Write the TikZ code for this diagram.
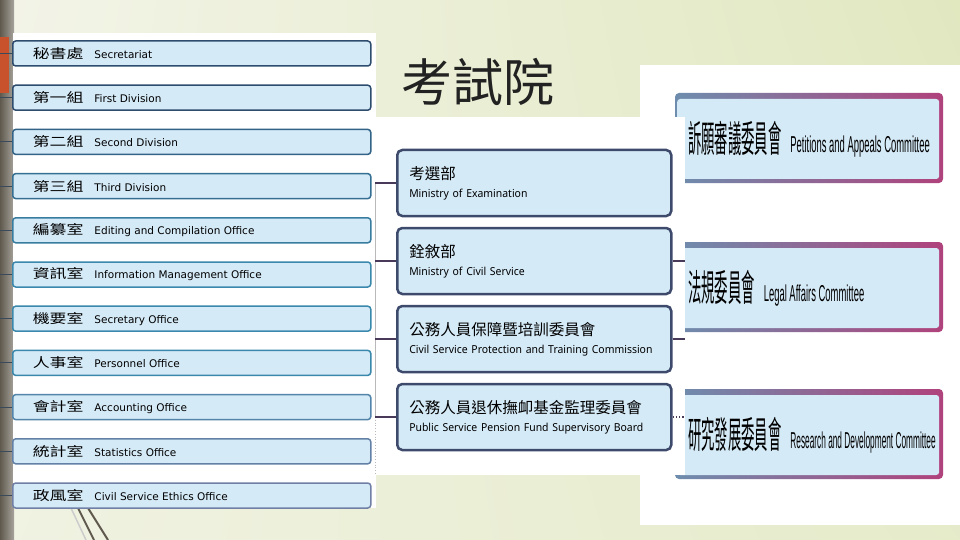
\documentclass[tikz,border=0pt]{standalone}
\usepackage{fontspec}
\usetikzlibrary{shadings}
\newfontfamily\cjk{Noto Sans CJK TC}
\newfontfamily\cjkwide[FakeStretch=1.3]{Noto Sans CJK TC}
\newfontfamily\cjknarrow[FakeStretch=0.36]{Noto Sans CJK TC}
\newfontfamily\verd{DejaVu Sans}
\newfontfamily\segoe[FakeStretch=0.95]{Noto Sans}
\newfontfamily\narrowsans[FakeStretch=0.41]{Liberation Sans}

\definecolor{bgleft}{HTML}{F3F4E8}
\definecolor{bgright}{HTML}{E1E8C0}
\definecolor{boxfill}{HTML}{D5EAF7}
\definecolor{navyrim}{HTML}{2E4C6E}
\definecolor{tealrim}{HTML}{3A88AC}
\definecolor{plumrim}{HTML}{8C7AA2}
\definecolor{midrim}{HTML}{3D4A6C}
\definecolor{steelrim}{HTML}{6E8DAE}
\definecolor{magrim}{HTML}{B0427C}
\definecolor{barbrown}{HTML}{5F594D}
\definecolor{barred}{HTML}{C8522C}
\definecolor{leftlinkc}{HTML}{3A4A5A}
\definecolor{midlinkc}{HTML}{4A3A5A}
\definecolor{titlegray}{HTML}{222222}

\newcommand{\lunit}[2]{{\cjkwide\fontsize{13}{13}\selectfont #1}\hspace{11pt}{\verd\fontsize{10.5}{11}\selectfont #2}}
\newcommand{\munit}[2]{{\cjk\fontsize{15.5}{18}\selectfont #1}\\{\segoe\fontsize{11}{18}\selectfont #2}}
\newcommand{\runit}[3][1]{\makebox[240pt][l]{{\cjknarrow\fontsize{37}{37}\selectfont #2}\hspace{9pt}\scalebox{#1}[1]{\narrowsans\fontsize{23}{23}\selectfont #3}}}

\tikzset{
  lbox/.style={draw, rounded corners=3pt, fill=boxfill, line width=1.5pt,
    minimum height=25pt, text width=318pt, inner xsep=20pt, inner ysep=0pt,
    anchor=west, align=left},
  mbox/.style={draw=midrim, rounded corners=5pt, fill=boxfill, line width=2.5pt,
    minimum height=66pt, text width=250pt, inner xsep=12pt, inner ysep=0pt,
    anchor=west, align=left, font=\fontsize{11}{18}\selectfont},
  rbox/.style={fill=boxfill, rounded corners=3pt, minimum width=262pt,
    minimum height=80pt, inner xsep=11pt, inner ysep=0pt, anchor=west},
  leftwire/.style={draw=leftlinkc, line width=1pt},
  midwire/.style={draw=midlinkc, line width=1.3pt}
}

\begin{document}
\begin{tikzpicture}[x=1pt, y=-1pt]

    % Canvas
    \useasboundingbox (0,0) rectangle (960,540);
    \shade[upper left=bgleft, upper right=bgright, lower left=bgleft!85!bgright,
      lower right=bgright!75!bgleft] (0,0) rectangle (960,540);

    % Side bar
    \shade[left color=barbrown, right color=barbrown!55!white] (0,0) rectangle (14,540);
    \fill[barred] (0,37) rectangle (9,93);

    % Stripes at the bottom
    \draw[line width=1.5pt, gray!40] (71,508) -- (86,540);
    \draw[line width=2pt, barbrown] (78,508) -- (94,540);
    \draw[line width=2pt, barbrown] (88,508) -- (108,540);

    % Panels
    \fill[white] (13,33) rectangle (376,508);
    \fill[white] (640,65) rectangle (960,525);

    % Committees
    \foreach \t in {93,242,389}
      \shade[rounded corners=4pt, left color=steelrim, right color=magrim]
        (675,\t) rectangle (943,{\t+90});
    \node[rbox] (pac) at (677,139) {\runit{訴願審議委員會}{Petitions and Appeals Committee}};
    \node[rbox] (lac) at (677,288) {\runit{法規委員會}{Legal Affairs Committee}};
    \node[rbox] (rdc) at (677,435) {\runit[0.88]{研究發展委員會}{Research and Development Committee}};

    % Middle panel
    \fill[white] (370,117) rectangle (685,475);
    \node[anchor=west, text=titlegray] (title) at (398,82) {\cjk\fontsize{51}{51}\selectfont 考試院};

    % Ministries and commissions
    \node[mbox] (moex) at (396,183) {\munit{考選部}{Ministry of Examination}};
    \node[mbox] (mocs) at (396,261) {\munit{銓敘部}{Ministry of Civil Service}};
    \node[mbox] (cspt) at (396,339) {\munit{公務人員保障暨培訓委員會}{Civil Service Protection and Training Commission}};
    \node[mbox] (pspf) at (396,417) {\munit{公務人員退休撫卹基金監理委員會}{Public Service Pension Fund Supervisory Board}};

    % Internal units
    \node[lbox, draw=navyrim] (sec) at (12,53.5) {\lunit{秘書處}{Secretariat}};
    \node[lbox, draw=navyrim] (div1) at (12,97.7) {\lunit{第一組}{First Division}};
    \node[lbox, draw=tealrim!40!navyrim] (div2) at (12,141.9) {\lunit{第二組}{Second Division}};
    \node[lbox, draw=tealrim!60!navyrim] (div3) at (12,186.1) {\lunit{第三組}{Third Division}};
    \node[lbox, draw=tealrim!80!navyrim] (edit) at (12,230.3) {\lunit{編纂室}{Editing and Compilation Office}};
    \node[lbox, draw=tealrim] (info) at (12,274.5) {\lunit{資訊室}{Information Management Office}};
    \node[lbox, draw=tealrim] (secy) at (12,318.7) {\lunit{機要室}{Secretary Office}};
    \node[lbox, draw=tealrim] (pers) at (12,362.9) {\lunit{人事室}{Personnel Office}};
    \node[lbox, draw=tealrim!70!plumrim] (acct) at (12,407.1) {\lunit{會計室}{Accounting Office}};
    \node[lbox, draw=tealrim!50!plumrim] (stat) at (12,451.3) {\lunit{統計室}{Statistics Office}};
    \node[lbox, draw=tealrim!35!plumrim] (ethic) at (12,495.5) {\lunit{政風室}{Civil Service Ethics Office}};

    % Links to the side bar
    \coordinate (bar) at (0,0);
    \foreach \n in {sec,div1,div2,div3,edit,info,secy,pers,acct,stat,ethic}
      \draw[leftwire] (\n.west) -- (\n.west -| bar);

    % Trunk on the left of the middle panel
    \coordinate (trunk) at (375,0);
    \coordinate (trunkend) at (375,475);
    \draw[gray!55, line width=0.8pt] (moex.west -| trunk) -- (pspf.west -| trunk);
    \draw[gray!55, line width=0.8pt, dotted] (pspf.west -| trunk) -- (trunkend);
    \foreach \n in {moex,mocs,cspt,pspf}
      \draw[midwire] (\n.west) -- (\n.west -| trunk);

    % Cut links on the right of the middle panel
    \coordinate (cut) at (685,0);
    \draw[midwire] (mocs.east) -- (mocs.east -| cut);
    \draw[midwire] (cspt.east) -- (cspt.east -| cut);
    \draw[midwire, dotted] (pspf.east) -- (pspf.east -| cut);

\end{tikzpicture}
\end{document}
